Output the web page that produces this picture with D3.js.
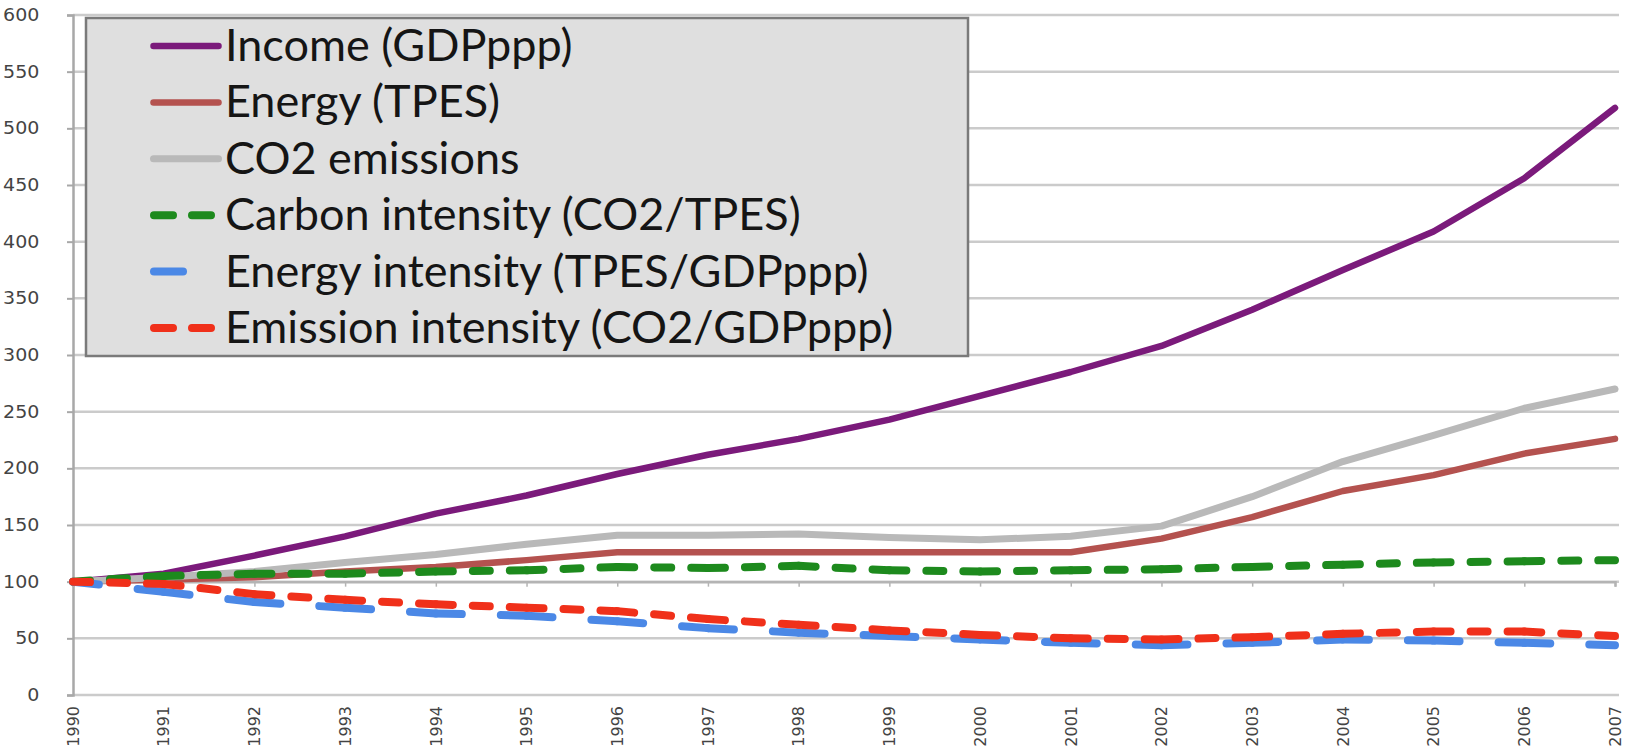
<!DOCTYPE html>
<html>
<head>
<meta charset="utf-8">
<script src="https://cdn.jsdelivr.net/npm/d3@7"></script>
<style>
  html, body { margin: 0; padding: 0; background: #ffffff; }
  svg { display: block; }
</style>
</head>
<body>
<svg id="chart" width="1629" height="752"></svg>
<script>
// Index values, 1990 = 100
const years = ["1990","1991","1992","1993","1994","1995","1996","1997","1998",
               "1999","2000","2001","2002","2003","2004","2005","2006","2007"];
const income            = [100,107,123,140,160,176,195,212,226,243,264,285,308,340,375,409,456,518];
const energy            = [100,102,104,109,113,119,126,126,126,126,126,126,138,157,180,194,213,226];
const co2               = [100,104,109,117,124,133,141,141,142,139,137,140,149,175,206,229,253,270];
const carbonIntensity   = [100,105,107,107,109,110,113,112,114,110,109,110,111,113,115,117,118,119];
const energyIntensity   = [100, 91, 82, 77, 72, 70, 65, 59, 55, 52, 49, 46, 44, 46, 49, 48, 46, 44];
const emissionIntensity = [100, 98, 89, 84, 80, 77, 74, 67, 62, 57, 53, 50, 49, 51, 54, 56, 56, 52];
const yTicks = [0,50,100,150,200,250,300,350,400,450,500,550,600];
const seriesNames = ["Income (GDPppp)","Energy (TPES)","CO2 emissions",
                     "Carbon intensity (CO2/TPES)","Energy intensity (TPES/GDPppp)",
                     "Emission intensity (CO2/GDPppp)"];

const series = [
  {name: seriesNames[0], values: income,            color: "#7b1a7b", width: 6.5, style: "solid"},
  {name: seriesNames[1], values: energy,            color: "#b4524f", width: 6.5, style: "solid"},
  {name: seriesNames[2], values: co2,               color: "#b9b9b9", width: 7,   style: "solid"},
  {name: seriesNames[3], values: carbonIntensity,   color: "#1d8a1d", width: 8,   style: "dash"},
  {name: seriesNames[4], values: energyIntensity,   color: "#4b88e6", width: 8,   style: "longdash"},
  {name: seriesNames[5], values: emissionIntensity, color: "#f0301a", width: 8,   style: "dash"}
];

// dash patterns per segment, centred on each data point
const dashSpec = {
  dash:     {array: "34 20 17 20", offset: 17},
  longdash: {array: "52 39",       offset: 26}
};

const svg = d3.select("#chart");
const plotLeft = 73, plotRight = 1615, plotTop = 15, plotBottom = 695;

const x = d3.scalePoint().domain(years).range([plotLeft, plotRight]);
const y = d3.scaleLinear().domain([0, 600]).range([plotBottom, plotTop]);

// horizontal gridlines
svg.append("g")
  .selectAll("line")
  .data(yTicks)
  .join("line")
  .attr("x1", plotLeft).attr("x2", plotRight + 4)
  .attr("y1", d => y(d)).attr("y2", d => y(d))
  .attr("stroke", "#cbcbcb")
  .attr("stroke-width", 2.5);

// y axis
const yAxis = svg.append("g")
  .attr("transform", `translate(${plotLeft},0)`)
  .call(d3.axisLeft(y).tickValues(yTicks).tickSize(6).tickPadding(24).tickFormat(d3.format("d")));
yAxis.select(".domain").attr("stroke", "#a8a8a8").attr("stroke-width", 2.5);
yAxis.selectAll(".tick line").attr("stroke", "#a8a8a8").attr("stroke-width", 2);
yAxis.selectAll(".tick text")
  .attr("fill", "#444")
  .attr("transform", "scale(1.12,1)")
  .style("font-family", "'DejaVu Sans', sans-serif")
  .style("font-size", "17px");

// category axis crossing at 100
const xAxis = svg.append("g")
  .attr("transform", `translate(0,${y(100)})`)
  .call(d3.axisBottom(x).tickSize(5).tickFormat(""));
xAxis.select(".domain").attr("stroke", "#b4b4b4").attr("stroke-width", 2.5);
xAxis.selectAll(".tick line").attr("stroke", "#b4b4b4").attr("stroke-width", 1.5);

// category labels at the bottom, rotated
svg.append("g")
  .selectAll("text")
  .data(years)
  .join("text")
  .attr("transform", d => `translate(${x(d)},706) rotate(-90)`)
  .attr("dy", "0.36em")
  .attr("text-anchor", "end")
  .attr("fill", "#444")
  .style("font-family", "'DejaVu Sans', sans-serif")
  .style("font-size", "16px")
  .text(d => d);

// series lines
const line = d3.line().x(d => x(d.year)).y(d => y(d.value));

series.forEach(s => {
  const pts = years.map((yr, i) => ({year: yr, value: s.values[i]}));
  if (s.style === "solid") {
    svg.append("path")
      .datum(pts)
      .attr("d", line)
      .attr("fill", "none")
      .attr("stroke", s.color)
      .attr("stroke-width", s.width)
      .attr("stroke-linejoin", "round")
      .attr("stroke-linecap", "round");
  } else {
    const spec = dashSpec[s.style];
    const segs = d3.pairs(pts);
    svg.append("g")
      .selectAll("path")
      .data(segs)
      .join("path")
      .attr("d", d => line(d))
      .attr("fill", "none")
      .attr("stroke", s.color)
      .attr("stroke-width", s.width)
      .attr("stroke-linecap", "round")
      .attr("stroke-dasharray", spec.array)
      .attr("stroke-dashoffset", spec.offset);
  }
});

// legend
const legend = svg.append("g");
legend.append("rect")
  .attr("x", 86).attr("y", 18)
  .attr("width", 882).attr("height", 338)
  .attr("fill", "#dfdfdf")
  .attr("stroke", "#7a7a7a")
  .attr("stroke-width", 2.5);

const rowY = i => 46 + i * 56.4;
series.forEach((s, i) => {
  const g = legend.append("g").attr("transform", `translate(0,${rowY(i)})`);
  let x1 = 153.5, x2 = 218.5, dash = null;
  if (s.style === "dash") { dash = "19 19"; x1 = 154; x2 = 212; }
  if (s.style === "longdash") { x1 = 154; x2 = 183; }
  g.append("line")
    .attr("x1", x1).attr("x2", x2)
    .attr("y1", 0).attr("y2", 0)
    .attr("stroke", s.color)
    .attr("stroke-width", s.width)
    .attr("stroke-linecap", "round")
    .attr("stroke-dasharray", dash);
  g.append("text")
    .attr("x", 225)
    .attr("y", 15)
    .attr("fill", "#151515")
    .style("font-family", "Lato, sans-serif")
    .style("font-size", "45px")
    .text(s.name);
});
</script>
</body>
</html>
